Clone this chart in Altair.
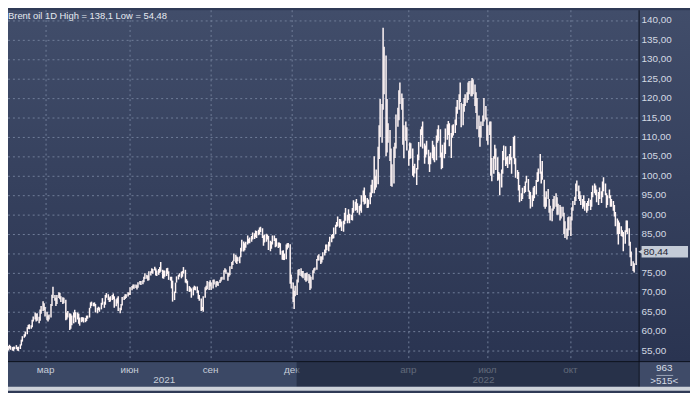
import altair as alt
import pandas as pd

title_text = "Brent oil 1D High = 138,1 Low = 54,48"
last_price = 80.44
last_price_label = "80,44"
corner_top = "963"
corner_bottom = ">515<"

# (low, high) per daily bar
bars_2021 = [
    # Jan (second half)
    (55.0, 56.3), (54.48, 55.9), (55.0, 56.2), (55.5, 56.5), (55.2, 56.2), (55.0, 55.9), (54.9, 56.0), (55.3, 56.0), (55.4, 56.4), (55.0, 55.9), (54.9, 56.0),
    # Feb
    (55.4, 56.6), (56.3, 57.8), (57.3, 58.7), (58.3, 59.2), (58.6, 59.9), (59.2, 61.0), (60.6, 61.6), (60.5, 61.8), (60.6, 61.5), (61.0, 62.9),
    (62.5, 63.8), (63.0, 64.8), (62.5, 64.5), (62.7, 64.6), (62.0, 63.7), (62.7, 65.6), (64.5, 66.5), (65.2, 67.7), (65.4, 67.2), (63.8, 66.2),
    # Mar
    (62.8, 65.0), (62.5, 64.0), (63.0, 64.3), (63.5, 67.0), (66.5, 69.4), (68.5, 71.4), (67.8, 69.3), (66.5, 68.6), (67.0, 69.3), (68.5, 70.0),
    (68.2, 69.9), (67.5, 69.0), (67.0, 68.7), (67.2, 68.6), (62.8, 68.1), (63.0, 64.8), (63.5, 65.2), (60.3, 64.6), (60.6, 64.5), (61.5, 64.0),
    (62.0, 64.8), (63.5, 65.5), (62.3, 64.9),
    # Apr
    (63.0, 64.8), (61.9, 64.5), (61.4, 63.5), (62.3, 63.6), (62.5, 63.6), (62.2, 63.5), (62.3, 63.4), (62.6, 64.0), (63.2, 64.0), (63.5, 66.0),
    (65.9, 67.4), (66.5, 67.6), (66.4, 67.3), (66.4, 67.4), (64.8, 67.0), (64.6, 66.0), (65.4, 66.3), (65.0, 66.1), (65.6, 67.3), (66.8, 68.5),
    # May
    (66.0, 67.6), (66.8, 69.3), (68.6, 69.8), (68.0, 69.5), (67.5, 68.7), (67.6, 69.0), (68.0, 69.3), (68.2, 69.7), (66.0, 69.0), (66.4, 68.2),
    (67.1, 68.6), (65.2, 69.0), (64.6, 66.0), (65.4, 67.0), (66.6, 68.8), (68.0, 69.0), (68.3, 69.5), (68.5, 69.5), (68.9, 70.0), (69.3, 69.9),
    # Jun
    (69.3, 71.3), (70.5, 71.6), (71.0, 72.0), (70.9, 72.0), (71.1, 72.0), (70.7, 71.8), (71.2, 72.6), (72.0, 72.9), (71.9, 72.9), (72.1, 73.1),
    (72.6, 74.0), (73.4, 74.9), (73.5, 74.5), (73.0, 74.3), (73.1, 75.4), (74.3, 75.4), (75.0, 76.2), (74.8, 76.0), (75.6, 76.6), (74.3, 76.1),
    (74.2, 75.6),
    # Jul
    (74.5, 76.0), (75.0, 76.5), (75.3, 77.8), (73.6, 75.8), (73.5, 75.6), (74.0, 75.6), (74.2, 76.2), (74.7, 76.3), (73.2, 75.4), (73.0, 74.0),
    (71.0, 74.0), (67.6, 73.0), (68.0, 70.2), (69.8, 72.5), (72.5, 74.1), (73.3, 74.5), (74.0, 74.9), (73.6, 75.3), (74.0, 75.5), (74.8, 76.5),
    # Aug
    (72.5, 75.8), (72.3, 73.4), (70.3, 73.0), (70.1, 71.6), (70.2, 71.3), (68.6, 71.0), (69.2, 71.3), (70.6, 71.7), (70.5, 71.5), (69.8, 71.5),
    (68.3, 70.5), (67.8, 69.3), (65.2, 68.4), (65.4, 66.2), (65.0, 69.0), (68.6, 71.3), (70.5, 71.7), (70.8, 72.9), (70.6, 72.7), (71.5, 73.1),
    # Sep
    (70.6, 72.5), (71.0, 73.2), (72.0, 73.3), (71.3, 72.8), (71.8, 72.9), (71.6, 72.7), (72.4, 73.2), (72.8, 73.9), (73.2, 74.0), (73.2, 75.7),
    (75.2, 76.2), (74.8, 75.9), (73.0, 75.1), (74.0, 75.0), (74.4, 76.7), (76.0, 77.8), (77.0, 78.1), (78.0, 80.0), (77.6, 79.7), (77.3, 79.2),
    (78.0, 79.0),
    # Oct
    (77.5, 79.2), (79.0, 81.5), (80.5, 83.5), (80.5, 83.1), (80.8, 82.6), (81.5, 83.0), (82.3, 84.6), (82.6, 83.8), (82.6, 84.1), (83.0, 84.5),
    (83.6, 85.4), (83.7, 85.2), (84.2, 85.9), (84.0, 85.8), (84.7, 86.1), (84.9, 86.7), (85.5, 86.9), (84.0, 86.5), (82.0, 84.6), (82.8, 84.9),
    # Nov
    (83.0, 85.1), (83.6, 84.9), (80.9, 84.5), (80.6, 83.3), (81.2, 83.0), (82.3, 84.6), (83.2, 84.6), (81.6, 83.9), (81.8, 83.9), (81.4, 82.8),
    (81.6, 82.8), (79.7, 82.6), (78.4, 80.7), (78.3, 80.8), (78.3, 80.0), (78.5, 82.3), (81.0, 82.6), (81.5, 82.7), (72.2, 82.4), (71.0, 74.6),
    # Dec
    (67.5, 72.5), (65.7, 70.4), (69.0, 71.7), (69.3, 73.3), (72.5, 75.8), (74.3, 76.0), (74.2, 76.2), (73.9, 75.5), (73.6, 75.5), (73.1, 74.9),
    (72.7, 75.0), (73.0, 75.1), (72.3, 74.7), (70.6, 74.4), (71.0, 74.0), (73.2, 75.7), (74.9, 76.2), (75.6, 76.4), (75.8, 78.6), (78.2, 79.5),
    (78.2, 79.8), (77.3, 79.3),
]

bars_2022 = [
    # Jan
    (77.7, 79.2), (78.4, 80.3), (79.5, 81.0), (80.1, 82.3), (80.8, 82.3), (80.6, 83.0), (81.8, 84.3), (82.9, 84.8), (83.8, 85.0), (83.9, 86.7),
    (85.0, 87.4), (86.8, 88.1), (87.0, 89.5), (86.6, 88.9), (86.9, 88.8), (85.8, 88.2), (85.6, 88.4), (87.5, 90.5), (88.4, 91.7), (87.8, 90.0),
    (88.5, 91.4),
    # Feb
    (87.8, 90.2), (88.6, 90.0), (88.5, 91.7), (90.5, 93.7), (91.0, 93.3), (91.2, 94.0), (90.5, 92.9), (90.0, 92.2), (91.0, 92.6), (90.5, 95.0),
    (93.3, 96.2), (92.6, 97.0), (92.8, 95.0), (91.7, 94.3), (91.8, 93.9), (92.7, 95.7), (94.5, 97.7), (95.5, 99.0), (95.5, 105.0), (96.4, 100.0),
    (97.0, 101.6),
    # Mar
    (97.8, 107.5), (104.3, 113.0), (110.0, 119.8), (108.5, 118.5), (117.0, 138.1), (121.0, 133.2), (105.0, 131.0), (106.0, 119.8), (108.5, 113.5), (103.8, 111.8),
    (97.4, 107.0), (97.2, 103.0), (98.0, 107.5), (104.6, 108.5), (107.0, 115.8), (112.6, 117.5), (114.3, 122.0), (118.5, 124.0), (117.0, 121.2), (108.0, 120.0),
    (104.5, 113.0), (109.0, 114.0), (106.5, 112.5),
    # Apr
    (102.6, 106.5), (104.3, 108.6), (104.5, 108.4), (100.0, 107.0), (99.6, 102.5), (100.6, 103.1), (97.6, 102.0), (101.6, 105.5), (104.0, 108.7), (107.5, 112.0),
    (110.5, 112.7), (107.0, 114.0), (103.1, 108.3), (104.7, 107.8), (105.5, 109.0), (103.0, 106.7), (101.0, 105.0), (103.0, 106.0), (104.5, 109.0),
    # May
    (104.0, 108.0), (103.5, 107.5), (104.0, 110.4), (108.5, 112.0), (109.0, 113.0), (104.7, 112.0), (101.7, 106.0), (102.0, 108.0), (104.5, 108.6), (105.6, 112.2),
    (109.3, 113.3), (110.5, 114.1), (107.6, 113.5), (104.6, 111.0), (109.8, 113.0), (110.4, 113.3), (111.0, 114.5), (113.0, 117.8), (116.0, 119.5), (117.0, 121.0),
    (119.0, 124.0),
    # Jun
    (112.5, 118.8), (113.0, 118.5), (116.5, 120.0), (118.0, 121.0), (118.8, 121.5), (119.5, 124.0), (121.0, 124.4), (120.5, 124.5), (120.5, 125.2), (121.0, 124.8),
    (118.0, 123.5), (116.2, 121.5), (112.0, 120.0), (110.0, 115.5), (107.5, 112.8), (109.8, 114.0), (112.8, 115.5), (114.0, 120.0), (114.5, 118.0), (109.0, 115.0),
    # Jul
    (108.0, 113.0), (110.5, 114.0), (100.0, 114.0), (98.6, 104.6), (100.5, 105.0), (104.4, 108.0), (101.5, 107.0), (98.7, 104.8), (99.0, 101.0), (95.0, 100.6),
    (97.0, 101.6), (100.5, 106.4), (104.0, 107.8), (102.5, 107.6), (103.0, 104.8), (102.0, 105.0), (103.0, 105.6), (104.0, 107.7), (100.5, 104.8), (104.5, 110.0),
    (103.0, 110.3),
    # Aug
    (99.5, 104.5), (99.2, 101.5), (96.2, 101.0), (93.2, 97.6), (93.5, 95.5), (94.0, 96.9), (95.5, 97.4), (95.8, 98.5), (98.2, 100.0), (95.9, 99.2),
    (94.0, 96.2), (91.6, 95.8), (92.0, 95.0), (93.5, 97.0), (94.2, 97.4), (95.2, 98.9), (98.4, 100.9), (98.5, 101.9), (100.5, 105.6), (98.0, 101.1),
    (99.0, 103.8),
    # Sep
    (92.0, 99.0), (91.5, 94.5), (92.0, 96.0), (94.0, 96.6), (90.5, 94.0), (88.5, 92.3), (88.3, 91.6), (91.0, 94.0), (91.5, 94.8), (92.0, 95.5),
    (90.0, 94.5), (90.0, 92.8), (88.5, 92.5), (89.0, 92.0), (89.5, 92.0), (85.0, 90.5), (84.0, 88.3), (83.6, 86.4), (84.5, 89.3), (86.0, 89.5),
    # Oct
    (84.5, 89.5), (88.5, 91.9), (91.0, 93.5), (92.5, 94.6), (93.5, 98.0), (96.0, 98.8), (94.0, 97.5), (93.5, 96.0), (92.5, 95.0), (91.5, 94.0),
    (92.0, 95.0), (91.0, 93.5), (90.5, 93.0), (91.0, 93.5), (92.2, 94.2), (91.2, 93.8), (92.0, 95.8), (94.5, 97.5), (95.5, 98.0), (95.0, 97.5),
    (93.2, 96.5),
    # Nov
    (92.5, 95.8), (94.0, 97.0), (93.0, 96.0), (94.5, 98.5), (96.0, 99.6), (95.0, 98.0), (91.8, 95.5), (92.5, 95.0), (94.2, 96.5), (92.0, 95.0),
    (92.0, 94.0), (91.0, 93.5), (89.5, 92.5), (87.0, 90.7), (85.0, 89.0), (82.3, 88.5), (85.0, 88.0), (84.5, 87.0), (84.3, 86.0), (80.6, 85.5),
    (82.5, 86.0),
    # Dec
    (85.5, 88.5), (85.0, 88.5), (82.0, 86.5), (79.0, 83.0), (76.8, 80.5), (75.5, 78.0), (75.1, 77.5), (77.0, 81.5),
]

month_pos = [30.5, 93.7, 154.6, 215.6, 303.3, 362.8, 425.3]
month_labels = ["мар", "июн", "сен", "дек", "апр", "июл", "окт"]
year_pos = [119.7, 359.9]
year_labels = ["2021", "2022"]
y_ticks = [55, 60, 65, 70, 75, 80, 85, 90, 95, 100, 105, 110, 115, 120, 125, 130, 135, 140]
y_labels = ["55,00", "60,00", "65,00", "70,00", "75,00", "80,00", "85,00", "90,00", "95,00",
            "100,00", "105,00", "110,00", "115,00", "120,00", "125,00", "130,00", "135,00", "140,00"]

pairs = bars_2021 + bars_2022
ohlc = pd.DataFrame({
    "i": list(range(len(pairs))),
    "low": [p[0] for p in pairs],
    "high": [p[1] for p in pairs],
})
ydf = pd.DataFrame({"v": y_ticks, "label": y_labels})
# the last-price box hides the tick label it sits on
ylab_df = ydf[(ydf["v"] - last_price).abs() > 2.5]
mdf = pd.DataFrame({"pos": month_pos, "label": month_labels})
yrdf = pd.DataFrame({"pos": year_pos, "label": year_labels})
pdf = pd.DataFrame({"p": [last_price], "lo": [last_price - 1.45], "hi": [last_price + 1.45],
                    "label": [last_price_label]})
one = pd.DataFrame({"a": [0]})

W, H = 638, 355
FONT = "Liberation Sans"
xs = alt.Scale(domain=[2.23, 476.6], nice=False, zero=False, round=True)
ys = alt.Scale(domain=[52.28, 142.63], nice=False, zero=False)

grad = {
    "gradient": "linear", "x1": 0, "x2": 0, "y1": 0, "y2": 1,
    "stops": [{"offset": 0, "color": "#414d6a"}, {"offset": 1, "color": "#2a3451"}],
}

bg = alt.Chart(one).mark_rect(color=grad).encode(
    x=alt.value(0), x2=alt.value(690), y=alt.value(0), y2=alt.value(H))

band = alt.Chart(one).mark_rect(color="#3b4865").encode(
    x=alt.value(0), x2=alt.value(W), y=alt.value(H), y2=alt.value(382))

corner = alt.Chart(one).mark_rect(color="#3f4b68").encode(
    x=alt.value(W), x2=alt.value(690), y=alt.value(H), y2=alt.value(382))

hgrid = alt.Chart(ydf).mark_rule(color="#707d99", strokeDash=[2, 3], strokeWidth=1, yOffset=0.5).encode(
    y=alt.Y("v:Q", scale=ys, axis=None), x=alt.value(0), x2=alt.value(W))

vgrid = alt.Chart(mdf).mark_rule(color="#707d99", strokeDash=[2, 3], strokeWidth=1, xOffset=0.5).encode(
    x=alt.X("pos:Q", scale=xs, axis=None), y=alt.value(0), y2=alt.value(H))

bars = alt.Chart(ohlc).mark_rule(color="#fff5f5", strokeWidth=1.5, xOffset=0.5, clip=True).encode(
    x=alt.X("i:Q", scale=xs, axis=None),
    y=alt.Y("low:Q", scale=ys, axis=None),
    y2="high:Q")

ylab = alt.Chart(ylab_df).mark_text(align="left", baseline="middle", font=FONT, fontSize=10,
                                    color="#d3d9e3").encode(
    y=alt.Y("v:Q", scale=ys, axis=None), x=alt.value(641), text="label:N")

mlab = alt.Chart(mdf).mark_text(align="center", baseline="middle", font=FONT, fontSize=10,
                                color="#c6cdd9").encode(
    x=alt.X("pos:Q", scale=xs, axis=None), y=alt.value(364), text="label:N")

yrlab = alt.Chart(yrdf).mark_text(align="center", baseline="middle", font=FONT, fontSize=10,
                                  color="#c6cdd9").encode(
    x=alt.X("pos:Q", scale=xs, axis=None), y=alt.value(374.5), text="label:N")

overlay = alt.Chart(one).mark_rect(color="#1b2337", opacity=0.6).encode(
    x=alt.value(292), x2=alt.value(W), y=alt.value(356), y2=alt.value(381))

hline = alt.Chart(one).mark_rule(color="#0b0f1a", strokeWidth=1).encode(
    x=alt.value(0), x2=alt.value(690), y=alt.value(355.5))

vline = alt.Chart(one).mark_rule(color="#0b0f1a", strokeWidth=1).encode(
    x=alt.value(638.5), y=alt.value(0), y2=alt.value(382))

frame = alt.Chart(one).mark_rect(color="#cdd2da").encode(
    x=alt.value(0), x2=alt.value(690), y=alt.value(381), y2=alt.value(385))

pbox = alt.Chart(pdf).mark_rect(color="#c4cbd7").encode(
    x=alt.value(641), x2=alt.value(688),
    y=alt.Y("lo:Q", scale=ys, axis=None), y2="hi:Q")

ptri = alt.Chart(pdf).mark_point(shape="triangle-left", filled=True, size=28, color="#c4cbd7",
                                 opacity=1).encode(
    x=alt.value(640), y=alt.Y("p:Q", scale=ys, axis=None))

ptext = alt.Chart(pdf).mark_text(align="left", baseline="middle", font=FONT, fontSize=10,
                                 color="#1d2433").encode(
    x=alt.value(643), y=alt.Y("p:Q", scale=ys, axis=None), text="label:N")

title = alt.Chart(one).mark_text(align="left", baseline="top", font=FONT, fontSize=9.5,
                                 color="#e6eaf1", text=title_text).encode(
    x=alt.value(0), y=alt.value(1))

c_top = alt.Chart(one).mark_text(align="center", baseline="middle", font=FONT, fontSize=10,
                                 color="#d6dce6", text=corner_top).encode(
    x=alt.value(664), y=alt.value(362.5))

c_line = alt.Chart(one).mark_rule(color="#9aa4b8", strokeWidth=1).encode(
    x=alt.value(656), x2=alt.value(673), y=alt.value(369.5))

c_bot = alt.Chart(one).mark_text(align="center", baseline="middle", font=FONT, fontSize=10,
                                 color="#d6dce6", text=corner_bottom).encode(
    x=alt.value(664), y=alt.value(375.5))

chart = alt.layer(
    bg, band, corner, hgrid, vgrid, bars, ylab, mlab, yrlab, overlay,
    hline, vline, frame, pbox, ptri, ptext, title, c_top, c_line, c_bot,
).properties(
    width=W, height=H,
    padding={"left": 0, "top": 0, "right": 52, "bottom": 30},
    autosize=alt.AutoSizeParams(type="none"),
    background="#2f3a56",
).configure_view(stroke=None)

chart.save("out.html", embed_options={"renderer": "svg", "actions": False})
